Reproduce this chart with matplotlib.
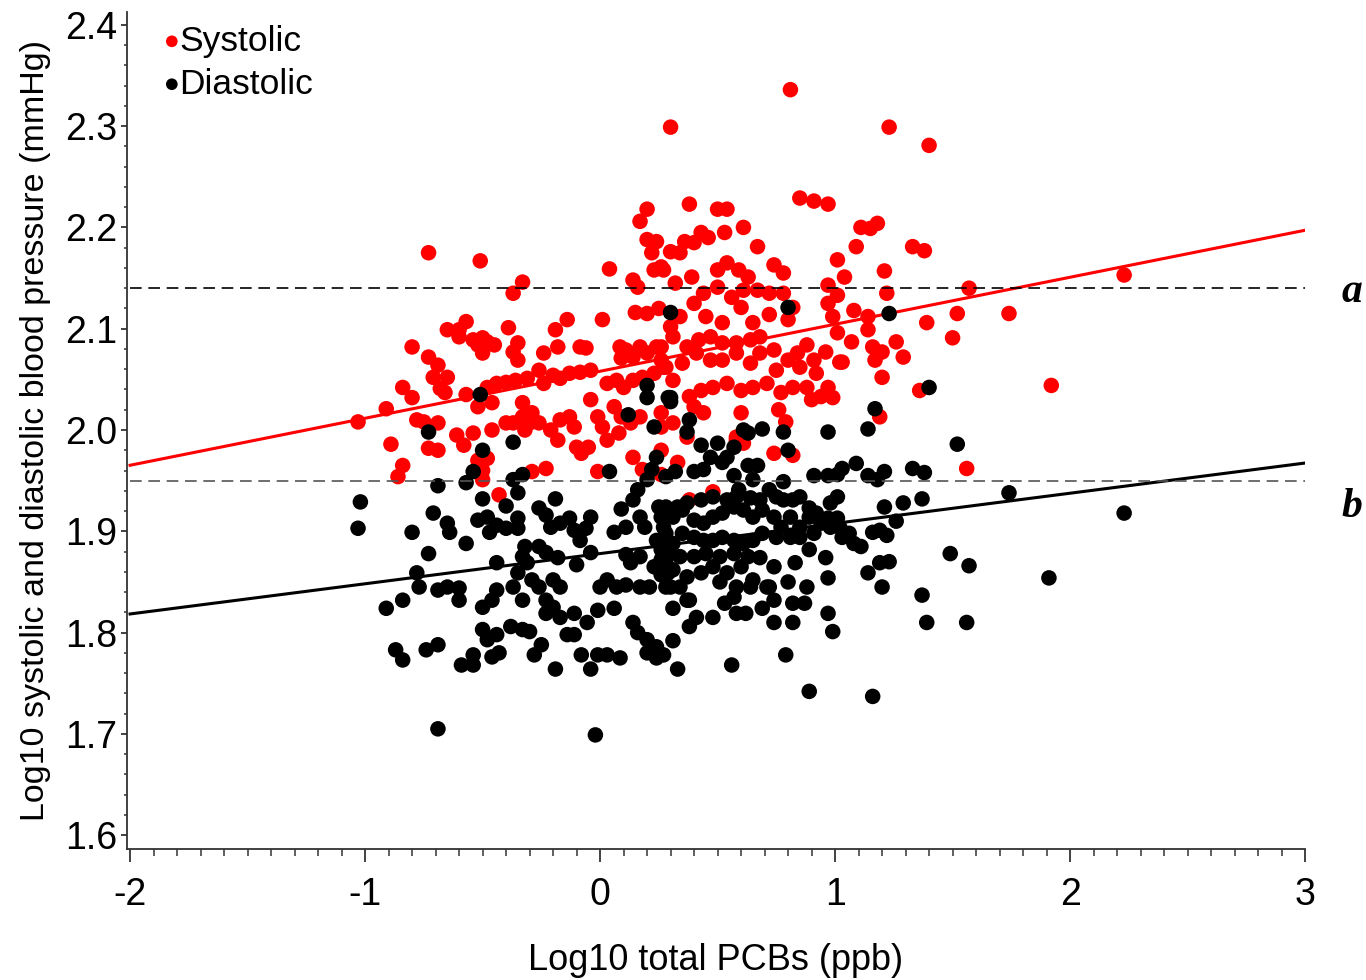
import matplotlib
matplotlib.use("Agg")
import matplotlib.pyplot as plt
from matplotlib.ticker import MultipleLocator, FormatStrFormatter

plt.rcParams["font.family"] = ["Liberation Sans", "DejaVu Sans"]
plt.rcParams["axes.unicode_minus"] = False

# Log10 total PCBs (x) vs Log10 systolic BP (y)
sys_pts = [
    (-0.73, 2.175), (-0.51, 2.167), (-0.33, 2.146), (-0.37, 2.135), (0.04, 2.159), (0.22, 2.175),
    (0.26, 2.161), (0.23, 2.158), (0.14, 2.148), (0.16, 2.141), (0.15, 2.116), (0.20, 2.115), (0.25, 2.12),
    (-0.57, 2.107), (-0.60, 2.099), (-0.65, 2.099), (-0.60, 2.092), (-0.54, 2.089), (-0.50, 2.091),
    (-0.48, 2.087), (-0.45, 2.084), (-0.50, 2.076), (-0.52, 2.084), (-0.39, 2.101), (-0.35, 2.086),
    (-0.37, 2.077), (-0.35, 2.069), (-0.80, 2.082), (-0.73, 2.072), (-0.69, 2.064), (-0.71, 2.052),
    (-0.65, 2.052), (-0.84, 2.042), (-0.80, 2.032), (-0.68, 2.041), (-0.66, 2.037), (-0.57, 2.035),
    (-0.91, 2.021), (-1.03, 2.008), (-0.78, 2.010), (-0.75, 2.008), (-0.69, 2.007), (-0.52, 2.023),
    (-0.46, 2.027), (-0.89, 1.986), (-0.73, 1.982), (-0.69, 1.980), (-0.84, 1.965), (-0.86, 1.954),
    (-0.61, 1.995), (-0.58, 1.985), (-0.54, 1.997), (-0.46, 2.000), (-0.52, 1.970), (-0.50, 1.960),
    (-0.48, 1.972), (-0.50, 1.951), (-0.43, 1.936),
    (-0.48, 2.042), (-0.44, 2.046), (-0.40, 2.047), (-0.36, 2.049), (-0.31, 2.051), (-0.26, 2.059),
    (-0.24, 2.046), (-0.20, 2.054), (-0.17, 2.051), (-0.13, 2.056), (-0.085, 2.057), (-0.04, 2.059),
    (0.03, 2.046), (0.07, 2.049), (0.10, 2.042), (0.14, 2.049), (0.18, 2.052), (0.23, 2.056), (0.27, 2.062),
    (-0.33, 2.027), (-0.29, 2.017), (-0.33, 2.013), (-0.37, 2.007), (-0.30, 2.007), (-0.26, 2.007),
    (-0.21, 2.000), (-0.17, 2.010), (-0.13, 2.013), (-0.11, 2.003), (-0.04, 2.030), (-0.01, 2.013),
    (0.01, 2.003), (0.06, 2.023), (0.09, 2.013), (0.13, 2.007), (0.17, 2.013), (0.26, 2.017),
    (0.08, 1.997), (0.14, 1.973), (0.26, 1.980), (-0.05, 1.983), (-0.10, 1.983), (-0.08, 1.977),
    (-0.23, 1.962), (-0.29, 1.959), (-0.32, 2.000), (-0.40, 2.007), (-0.18, 1.990), (0.03, 1.990),
    (0.01, 2.109), (-0.14, 2.109), (-0.19, 2.099), (-0.18, 2.082), (-0.24, 2.076), (-0.085, 2.082),
    (-0.06, 2.081), (0.085, 2.082), (0.11, 2.079), (0.14, 2.072), (0.17, 2.082), (0.20, 2.076),
    (0.24, 2.082), (0.09, 2.071), (0.26, 2.069),
    (0.30, 2.299), (0.81, 2.336), (1.23, 2.299), (1.40, 2.281),
    (0.20, 2.218), (0.17, 2.206), (0.20, 2.188), (0.24, 2.186),
    (0.38, 2.223), (0.50, 2.218), (0.54, 2.218), (0.43, 2.195), (0.46, 2.190), (0.53, 2.195),
    (0.61, 2.200), (0.36, 2.186), (0.40, 2.185), (0.30, 2.176), (0.34, 2.175), (0.67, 2.181),
    (0.85, 2.229), (0.91, 2.226), (0.97, 2.223), (1.11, 2.200), (1.15, 2.199), (1.18, 2.204),
    (1.09, 2.181), (1.01, 2.168), (1.04, 2.151), (1.21, 2.157), (1.22, 2.135), (1.33, 2.181),
    (1.38, 2.177), (0.74, 2.163), (0.78, 2.155), (0.27, 2.158), (0.32, 2.145), (0.39, 2.151),
    (0.50, 2.158), (0.54, 2.165), (0.59, 2.158), (0.63, 2.151), (0.97, 2.143), (1.01, 2.133),
    (0.97, 2.125), (1.08, 2.118), (1.14, 2.112), (1.07, 2.087), (1.01, 2.096), (0.99, 2.112),
    (1.57, 2.140), (1.52, 2.115), (1.50, 2.091), (1.39, 2.106), (1.26, 2.087), (1.29, 2.072),
    (1.20, 2.077), (1.16, 2.082), (1.17, 2.069), (1.20, 2.052), (1.03, 2.067), (0.96, 2.077),
    (1.14, 2.099), (1.19, 2.013), (1.36, 2.039), (1.56, 1.962),
    (0.44, 2.135), (0.50, 2.141), (0.56, 2.131), (0.61, 2.138), (0.67, 2.138), (0.72, 2.135),
    (0.78, 2.135), (0.82, 2.121), (0.80, 2.109), (0.72, 2.114), (0.65, 2.106), (0.60, 2.121),
    (0.52, 2.106), (0.45, 2.112), (0.40, 2.125), (0.34, 2.112), (0.30, 2.102), (0.26, 2.082),
    (0.31, 2.092), (0.37, 2.082), (0.42, 2.089), (0.47, 2.092), (0.52, 2.086), (0.58, 2.086),
    (0.64, 2.089), (0.68, 2.092), (0.74, 2.079), (0.80, 2.069), (0.88, 2.084), (0.92, 2.056),
    (0.88, 2.042), (0.82, 2.042), (0.77, 2.037), (0.71, 2.046), (0.65, 2.042), (0.60, 2.039),
    (0.54, 2.046), (0.48, 2.042), (0.43, 2.039), (0.38, 2.033), (0.31, 2.049), (0.28, 2.062),
    (0.35, 2.066), (0.41, 2.076), (0.47, 2.069), (0.52, 2.069), (0.58, 2.076), (0.64, 2.066),
    (0.68, 2.076), (0.75, 2.059), (0.94, 2.033), (0.99, 2.032), (0.90, 2.030), (0.60, 2.017),
    (0.44, 2.017), (0.76, 2.020), (0.79, 2.008), (0.58, 1.993), (0.37, 1.993), (0.26, 2.003),
    (0.31, 2.007), (0.40, 2.023), (0.84, 2.076), (0.85, 2.062), (0.91, 2.069), (0.97, 2.042),
    (1.02, 2.067), (0.61, 1.987), (0.74, 1.977), (0.82, 1.975), (0.48, 1.939),
    (-0.01, 1.959), (0.18, 1.961), (0.26, 1.956), (0.33, 1.968), (0.38, 1.931), (0.58, 1.990),
    (2.23, 2.153), (1.74, 2.115), (1.92, 2.044),
]

# Log10 total PCBs (x) vs Log10 diastolic BP (y)
dia_pts = [
    (-0.73, 1.998), (-0.50, 1.980), (-0.37, 1.988), (0.12, 2.015), (0.23, 2.003), (0.04, 1.959),
    (-0.54, 1.959), (-0.57, 1.948), (-0.69, 1.945), (-0.37, 1.951), (-0.33, 1.956), (-0.35, 1.938),
    (-1.02, 1.929), (-1.03, 1.903), (-0.71, 1.918), (-0.65, 1.908), (-0.64, 1.899), (-0.80, 1.899),
    (-0.57, 1.888), (-0.73, 1.878), (-0.50, 1.932), (-0.40, 1.925), (-0.52, 1.911), (-0.48, 1.914),
    (-0.47, 1.899), (-0.44, 1.906), (-0.40, 1.903), (-0.35, 1.913), (-0.35, 1.903), (-0.26, 1.923),
    (-0.23, 1.916), (-0.19, 1.932), (-0.21, 1.904), (-0.17, 1.908), (-0.13, 1.913), (-0.11, 1.901),
    (-0.085, 1.891), (-0.04, 1.914), (-0.06, 1.903), (0.09, 1.922), (0.06, 1.899), (0.11, 1.904),
    (0.14, 1.931), (0.17, 1.914), (0.19, 1.904), (0.25, 1.924), (0.16, 1.941), (0.20, 1.951),
    (0.22, 1.961), (0.24, 1.973), (-0.44, 1.869), (-0.32, 1.885), (-0.33, 1.875), (-0.31, 1.869),
    (-0.35, 1.859), (-0.26, 1.885), (-0.23, 1.879), (-0.18, 1.874), (-0.10, 1.867), (-0.04, 1.879),
    (-0.78, 1.859), (-0.77, 1.845), (-0.69, 1.842), (-0.65, 1.845), (-0.60, 1.844), (-0.60, 1.832),
    (-0.84, 1.832), (-0.91, 1.824), (-0.44, 1.842), (-0.50, 1.825), (-0.46, 1.832), (-0.37, 1.845),
    (-0.33, 1.832), (-0.29, 1.852), (-0.26, 1.845), (-0.20, 1.852), (-0.17, 1.845), (-0.23, 1.832),
    (-0.20, 1.825), (-0.23, 1.819), (-0.17, 1.815), (-0.11, 1.819), (-0.055, 1.810), (-0.01, 1.822),
    (0.06, 1.824), (0.00, 1.845), (0.03, 1.852), (0.07, 1.845), (0.11, 1.847), (0.17, 1.845),
    (0.21, 1.845), (0.26, 1.857), (0.13, 1.869), (0.17, 1.875), (0.11, 1.877), (0.26, 1.882),
    (0.24, 1.891), (-0.50, 1.803), (-0.44, 1.798), (-0.48, 1.793), (-0.38, 1.806), (-0.33, 1.803),
    (-0.30, 1.801), (-0.14, 1.798), (-0.11, 1.798), (0.14, 1.810), (0.16, 1.800), (0.20, 1.793),
    (0.24, 1.786), (-0.87, 1.783), (-0.84, 1.773), (-0.74, 1.783), (-0.69, 1.788), (-0.54, 1.778),
    (-0.59, 1.768), (-0.54, 1.768), (-0.46, 1.776), (-0.43, 1.780), (-0.28, 1.778), (-0.25, 1.788),
    (-0.19, 1.764), (-0.08, 1.778), (-0.04, 1.764), (-0.01, 1.778), (0.03, 1.778), (0.085, 1.775),
    (0.20, 1.780), (0.24, 1.775), (-0.69, 1.705), (-0.02, 1.699), (0.26, 1.914), (0.28, 1.898),
    (0.29, 1.882), (0.26, 1.872), (0.29, 1.859), (0.23, 1.865), (0.30, 1.845),
    (1.17, 2.021), (0.97, 1.998), (1.14, 2.001), (1.52, 1.986), (0.78, 1.998), (0.69, 2.001),
    (0.61, 2.000), (0.63, 1.997), (0.80, 1.980), (0.50, 1.987), (0.43, 1.985), (0.57, 1.983),
    (0.37, 1.998), (0.38, 2.010), (0.30, 2.028), (0.47, 1.973), (0.52, 1.968), (0.54, 1.973),
    (0.63, 1.965), (0.67, 1.965), (0.40, 1.959), (0.44, 1.961), (0.32, 1.959), (0.28, 1.954),
    (0.91, 1.955), (0.97, 1.955), (1.01, 1.956), (1.03, 1.962), (1.09, 1.967), (1.14, 1.955),
    (1.18, 1.951), (1.21, 1.959), (1.33, 1.962), (1.38, 1.958), (0.78, 1.949), (0.65, 1.951),
    (0.57, 1.955), (0.85, 1.934), (0.98, 1.928), (1.01, 1.934), (1.21, 1.924), (1.29, 1.928),
    (1.37, 1.932), (1.26, 1.910), (0.89, 1.923), (1.01, 1.913), (1.49, 1.878), (1.57, 1.866),
    (1.37, 1.837), (1.39, 1.810), (1.56, 1.810), (1.16, 1.899), (1.22, 1.896), (1.19, 1.901),
    (1.19, 1.869), (1.23, 1.870), (1.14, 1.859), (1.20, 1.845), (1.06, 1.898), (1.08, 1.888),
    (1.11, 1.885), (1.03, 1.894), (0.96, 1.874), (0.97, 1.854), (0.89, 1.882), (0.83, 1.869),
    (0.88, 1.845), (0.80, 1.850), (0.74, 1.865), (0.68, 1.874), (0.82, 1.829), (0.87, 1.829),
    (0.74, 1.832), (0.69, 1.824), (0.97, 1.819), (0.99, 1.801), (0.82, 1.810), (0.74, 1.810),
    (0.79, 1.778), (0.89, 1.742), (1.16, 1.737), (0.56, 1.768), (0.33, 1.764), (0.31, 1.792),
    (0.27, 1.778), (0.38, 1.806), (0.41, 1.815), (0.48, 1.815), (0.58, 1.819), (0.62, 1.819),
    (0.53, 1.829), (0.57, 1.835), (0.31, 1.824), (0.37, 1.832),
    (0.27, 1.904), (0.31, 1.914), (0.35, 1.921), (0.40, 1.911), (0.44, 1.908), (0.48, 1.914),
    (0.52, 1.918), (0.57, 1.924), (0.61, 1.921), (0.65, 1.914), (0.69, 1.921), (0.74, 1.914),
    (0.77, 1.904), (0.81, 1.914), (0.85, 1.904), (0.89, 1.914), (0.94, 1.908), (0.98, 1.904),
    (1.02, 1.904), (0.91, 1.898), (0.85, 1.894), (0.81, 1.894), (0.75, 1.894), (0.69, 1.898),
    (0.65, 1.891), (0.61, 1.888), (0.57, 1.891), (0.52, 1.894), (0.48, 1.891), (0.44, 1.891),
    (0.40, 1.894), (0.35, 1.898), (0.31, 1.888), (0.27, 1.885), (0.28, 1.872), (0.34, 1.875),
    (0.40, 1.875), (0.45, 1.878), (0.51, 1.875), (0.57, 1.878), (0.63, 1.875), (0.31, 1.862),
    (0.37, 1.855), (0.43, 1.859), (0.48, 1.865), (0.54, 1.859), (0.60, 1.865), (0.65, 1.852),
    (0.71, 1.845), (0.26, 1.859), (0.28, 1.845), (0.34, 1.845), (0.51, 1.850), (0.58, 1.845),
    (0.38, 1.832), (0.64, 1.845), (0.72, 1.845), (0.58, 1.934), (0.64, 1.933), (0.68, 1.931),
    (0.54, 1.931), (0.48, 1.934), (0.43, 1.931), (0.37, 1.928), (0.33, 1.924), (0.28, 1.924),
    (0.75, 1.934), (0.78, 1.931), (0.82, 1.931), (0.92, 1.918), (0.97, 1.913), (0.59, 1.941),
    (0.72, 1.941),
    (0.30, 2.116), (0.80, 2.121), (1.23, 2.115), (0.30, 2.032), (1.40, 2.042), (-0.51, 2.035),
    (0.20, 2.044), (0.20, 2.032), (0.29, 2.032),
    (1.74, 1.938), (2.23, 1.918), (1.91, 1.854),
]

# fitted regression lines (intercept, slope) and reference levels
sys_fit = (2.058, 0.0464)
dia_fit = (1.878, 0.0298)
ref_a = 2.14
ref_b = 1.95
x_range = (-2.0, 3.0)

sys_x = [p[0] for p in sys_pts]
sys_y = [p[1] for p in sys_pts]
dia_x = [p[0] for p in dia_pts]
dia_y = [p[1] for p in dia_pts]

fig = plt.figure(figsize=(13.66, 9.8), dpi=100)
ax = fig.add_axes([0.093, 0.1337, 0.8624, 0.854])

ax.scatter(sys_x, sys_y, s=125, color="#ff0000", edgecolors="none", label="Systolic", zorder=2)
ax.plot(x_range, [sys_fit[0] + sys_fit[1] * x for x in x_range], color="#ff0000", lw=2.2, zorder=3)
ax.scatter(dia_x, dia_y, s=125, color="black", edgecolors="none", label="Diastolic", zorder=4)
ax.plot(x_range, [dia_fit[0] + dia_fit[1] * x for x in x_range], color="black", lw=2.2, zorder=5)

ax.plot(x_range, [ref_a, ref_a], color="black", lw=1.2, dashes=(7, 4), zorder=6)
ax.plot(x_range, [ref_b, ref_b], color="#555555", lw=1.2, dashes=(7, 4), zorder=6)

ax.text(3.2, 2.126, "a", fontsize=30, fontweight="bold", fontstyle="italic",
        family="Liberation Serif", ha="center", va="baseline", clip_on=False)
ax.text(3.2, 1.914, "b", fontsize=30, fontweight="bold", fontstyle="italic",
        family="Liberation Serif", ha="center", va="baseline", clip_on=False)

ax.set_xlim(-2.013, 3.0)
ax.set_ylim(1.5864, 2.4126)
ax.xaxis.set_major_locator(MultipleLocator(1))
ax.xaxis.set_minor_locator(MultipleLocator(0.1))
ax.yaxis.set_major_locator(MultipleLocator(0.1))
ax.yaxis.set_minor_locator(MultipleLocator(0.02))
ax.yaxis.set_major_formatter(FormatStrFormatter("%.1f"))

for side in ("top", "right"):
    ax.spines[side].set_visible(False)
for side in ("left", "bottom"):
    ax.spines[side].set_linewidth(1.3)
    ax.spines[side].set_color("#333333")

ax.tick_params(axis="x", which="major", length=9, width=1.3, color="#333333", labelsize=27, pad=11)
ax.tick_params(axis="x", which="minor", length=5, width=1.1, color="#333333")
ax.tick_params(axis="y", which="major", length=4, width=1.3, color="#333333", labelsize=27, pad=3)
ax.tick_params(axis="y", which="minor", length=2.5, width=1.1, color="#333333")

ax.set_xlabel("Log10 total PCBs (ppb)", fontsize=26, labelpad=22)
ax.set_ylabel("Log10 systolic and diastolic blood pressure (mmHg)", fontsize=24.5, labelpad=10)

ax.legend(loc="upper left", bbox_to_anchor=(0.032, 0.985), frameon=False, fontsize=25.5,
          markerscale=0.75, handlelength=0.4, handletextpad=0.0, labelspacing=0.28,
          borderpad=0, borderaxespad=0)

fig.savefig("out.png", dpi=100)
